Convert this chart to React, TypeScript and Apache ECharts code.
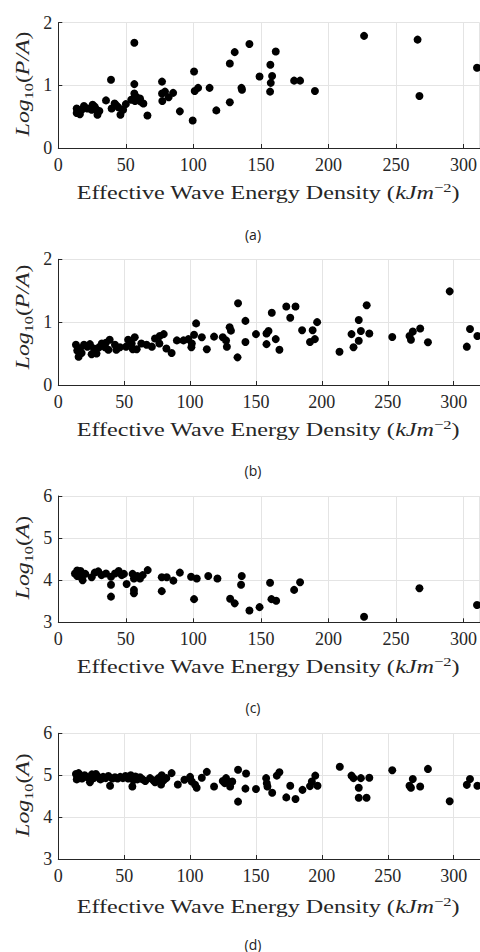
import React, { useEffect, useRef } from "react";
import * as echarts from "echarts";

// ---- data ----
const panelA: [number, number][] = [
  [13.6, 0.63], [13.6, 0.56], [14.5, 0.6], [16, 0.54], [17.3, 0.61], [19, 0.67], [21.5, 0.63], [24.7, 0.61],
  [25.4, 0.69], [27, 0.66], [28.4, 0.61], [29, 0.53], [30.4, 0.59], [35.3, 0.76], [39, 1.09], [39.5, 0.63],
  [41.7, 0.71], [43, 0.68], [44.4, 0.65], [46, 0.53], [48, 0.61], [50, 0.7], [54, 0.77], [56.3, 1.68],
  [56.3, 1.02], [56.3, 0.87], [56.8, 0.75], [58, 0.81], [60.5, 0.79], [61, 0.74], [63, 0.71], [66, 0.52],
  [76.8, 1.06], [76.8, 0.87], [77, 0.75], [79, 0.9], [81.7, 0.81], [85, 0.88], [90, 0.585], [99.5, 0.44],
  [100.5, 1.22], [101, 0.91], [103.5, 0.96], [112, 0.96], [117, 0.6], [127, 0.73], [127, 1.35], [130.6, 1.53],
  [135.6, 0.96], [136, 0.93], [141.5, 1.66], [149, 1.14], [156.8, 0.9], [157, 1.33], [157.3, 1.04], [158.3, 1.15],
  [161, 1.54], [174.6, 1.075], [179, 1.075], [190, 0.91], [226.4, 1.79], [266, 1.73], [267.4, 0.83], [310, 1.28],
];

const panelB: [number, number][] = [
  [13.4, 0.64], [14.4, 0.55], [15.4, 0.45], [16.5, 0.58], [17.7, 0.51], [19.5, 0.64], [22, 0.61], [24, 0.65],
  [25.3, 0.49], [27, 0.58], [29, 0.5], [31, 0.6], [33, 0.66], [35.4, 0.6], [36, 0.67], [38, 0.56], [39, 0.72],
  [43, 0.64], [44, 0.56], [46.8, 0.6], [51.4, 0.61], [53, 0.72], [55.7, 0.66], [56.5, 0.57], [58, 0.76],
  [59.5, 0.57], [63, 0.66], [67, 0.64], [71, 0.61], [73.4, 0.74], [76.7, 0.66], [77, 0.78], [80, 0.81],
  [82, 0.58], [86, 0.51], [90, 0.71], [95, 0.71], [98.7, 0.73], [101, 0.6], [101.3, 0.66], [103, 0.8],
  [104.6, 0.98], [108.9, 0.76], [112.7, 0.57], [118.2, 0.77], [124.8, 0.76], [127.3, 0.71], [127.9, 0.61],
  [130, 0.92], [131, 0.865], [136.4, 1.3], [136, 0.44], [142, 1.02], [142, 0.685], [150, 0.81], [158, 0.82],
  [159.5, 0.86], [158, 0.65], [162, 1.15], [165, 0.73], [167.8, 0.56], [173, 1.25], [180, 1.25], [176, 1.07],
  [185, 0.87], [193, 0.87], [196.4, 1.0], [191, 0.685], [194.7, 0.73], [213.4, 0.53], [222.5, 0.81], [224, 0.6],
  [228, 1.035], [229.6, 0.86], [228, 0.705], [234, 1.27], [236, 0.82], [253.4, 0.765], [266.5, 0.78], [269, 0.85],
  [267.6, 0.72], [274.6, 0.9], [280.5, 0.68], [297, 1.49], [310, 0.61], [312.4, 0.89], [318, 0.78],
];

const panelC: [number, number][] = [
  [12.3, 4.16], [14, 4.1], [14, 4.23], [15, 4.2], [16, 4.1], [16.5, 4.22], [18, 4.0], [20, 4.15], [24.7, 4.07],
  [27, 4.18], [29.6, 4.21], [32, 4.12], [35.3, 4.16], [39, 4.08], [39, 3.89], [39, 3.61], [42, 4.16], [44.7, 4.22],
  [47, 4.12], [48.6, 4.15], [50.6, 3.91], [55, 4.15], [56, 4.04], [56, 3.77], [56, 3.69], [58.5, 4.1], [60.5, 4.04],
  [62.5, 4.12], [66.2, 4.24], [76.6, 4.07], [76.6, 3.74], [80.3, 4.07], [85.2, 3.99], [90, 4.18], [98.3, 4.08],
  [100.5, 3.55], [102.5, 4.04], [111, 4.1], [117.8, 4.04], [127.2, 3.56], [130.6, 3.45], [135.3, 3.89],
  [135.8, 4.1], [141.5, 3.28], [149, 3.36], [156.8, 3.94], [157.8, 3.55], [161.3, 3.51], [174.6, 3.77],
  [179, 3.95], [226.4, 3.13], [267.4, 3.81], [310, 3.41],
];

const panelD: [number, number][] = [
  [13.4, 5.03], [14, 4.9], [14.4, 4.96], [15.4, 5.05], [16.5, 4.98], [18, 4.92], [20, 5.0], [22, 4.95], [24, 4.83],
  [25.5, 5.02], [27, 4.93], [28.5, 5.03], [30, 4.97], [32, 4.9], [34, 4.96], [36, 4.93], [38, 4.98], [39.3, 4.75],
  [41, 4.92], [43, 4.95], [45, 4.92], [47, 4.96], [49, 4.93], [51, 4.98], [53, 4.92], [55, 5.0], [56.2, 4.73],
  [57, 4.88], [58.5, 4.97], [60, 4.9], [62, 4.95], [64, 4.9], [66, 4.86], [69.6, 4.93], [72, 4.88], [73.4, 4.83],
  [76, 4.93], [78, 4.78], [78.5, 5.0], [80, 4.88], [82, 4.93], [86, 5.05], [90.7, 4.78], [95.7, 4.89], [100, 4.96],
  [101.3, 4.85], [103.8, 4.77], [105, 4.7], [108.9, 4.94], [112.7, 5.08], [118.2, 4.73], [124.8, 4.86],
  [126.3, 4.81], [127.3, 4.93], [129, 4.83], [130.4, 4.73], [132, 4.85], [136.4, 5.13], [136.4, 4.37],
  [142.5, 5.04], [142, 4.68], [150, 4.67], [157.7, 4.93], [158.2, 4.81], [158.7, 4.73], [162.3, 4.58],
  [165.8, 4.99], [167.8, 5.07], [173, 4.47], [176, 4.75], [180, 4.43], [185.3, 4.65], [191, 4.74], [192.4, 4.85],
  [195, 4.99], [196.7, 4.75], [213.6, 5.2], [222.5, 4.99], [224, 4.93], [228, 4.7], [229.6, 4.93], [228, 4.46],
  [233.9, 4.46], [236, 4.94], [253.4, 5.12], [266.5, 4.75], [269, 4.91], [267.6, 4.7], [274.6, 4.73],
  [280.5, 5.15], [297, 4.38], [310, 4.77], [312.4, 4.91], [318, 4.75],
];

const xMaxes = [312, 320, 312, 320];
const yRanges: [number, number][] = [[0, 2], [0, 2], [3, 6], [3, 6]];
const yQuantities = ["P/A", "P/A", "A", "A"];
const captions = ["(a)", "(b)", "(c)", "(d)"];
const xTitle = "Effective Wave Energy Density";

// ---- layout ----
const gridTops = [22.7, 259.3, 496, 733.3];
const gridHeights = [125.3, 125.7, 126.3, 125.7];
const titleYs = [193, 430, 667.3, 906.7];
const yNameYs = [84, 317, 557.5, 795];
const captionYs = [234, 470.6, 707.3, 944];
const GRID_LEFT = 58.3;

const SERIF = "Liberation Serif";
const INK = "#262626";

export default function App() {
  const ref = useRef<HTMLDivElement>(null);
  useEffect(() => {
    const chart = echarts.init(ref.current!, null, { renderer: "svg" });
    const datasets = [panelA, panelB, panelC, panelD];

    const grid = datasets.map((_, i) => ({
      left: GRID_LEFT,
      right: 0,
      top: gridTops[i],
      height: gridHeights[i],
    }));

    const xAxis = datasets.map((_, i) => ({
      type: "value",
      gridIndex: i,
      min: 0,
      max: xMaxes[i],
      interval: 50,
      axisLine: { show: true, onZero: false, lineStyle: { color: INK, width: 1 } },
      axisTick: { show: true, inside: true, length: 4, lineStyle: { color: INK } },
      axisLabel: {
        fontFamily: SERIF,
        fontSize: 18,
        color: INK,
        margin: 8,
        showMaxLabel: false,
      },
      splitLine: { show: true, lineStyle: { color: "#e4e4e4", width: 1 } },
    }));

    const yAxis = datasets.map((_, i) => ({
      type: "value",
      gridIndex: i,
      min: yRanges[i][0],
      max: yRanges[i][1],
      interval: 1,
      axisLine: { show: true, onZero: false, lineStyle: { color: INK, width: 1 } },
      axisTick: { show: true, inside: true, length: 4, lineStyle: { color: INK } },
      axisLabel: { fontFamily: SERIF, fontSize: 18, color: INK, margin: 6 },
      splitLine: { show: true, lineStyle: { color: "#e4e4e4", width: 1 } },
    }));

    const series = datasets.map((d, i) => ({
      type: "scatter",
      xAxisIndex: i,
      yAxisIndex: i,
      data: d,
      symbol: "circle",
      symbolSize: 8,
      itemStyle: { color: "#000000", opacity: 1 },
    }));

    const graphic: any[] = [];
    datasets.forEach((_, i) => {
      graphic.push({
        type: "text",
        x: 268,
        y: titleYs[i],
        scaleX: 1.27,
        style: {
          text: `{r|${xTitle} (}{i|kJm}{p|−2}{r|)}`,
          align: "center",
          verticalAlign: "middle",
          rich: {
            r: { fontFamily: SERIF, fontSize: 19, fill: INK, lineHeight: 24 },
            i: { fontFamily: SERIF, fontStyle: "italic", fontSize: 19, fill: INK, lineHeight: 24 },
            p: { fontFamily: SERIF, fontSize: 13, fill: INK, lineHeight: 13, verticalAlign: "top" },
          },
        },
      });
      graphic.push({
        type: "text",
        x: 23.3,
        y: yNameYs[i],
        rotation: Math.PI / 2,
        scaleX: 1.25,
        style: {
          text: `{i|Log}{s|10}{n|(}{i|${yQuantities[i]}}{n|)}`,
          align: "center",
          verticalAlign: "middle",
          rich: {
            i: { fontFamily: SERIF, fontStyle: "italic", fontSize: 19, fill: INK, lineHeight: 24 },
            n: { fontFamily: SERIF, fontSize: 19, fill: INK, lineHeight: 24 },
            s: { fontFamily: SERIF, fontSize: 13, fill: INK, lineHeight: 13, verticalAlign: "bottom" },
          },
        },
      });
      graphic.push({
        type: "text",
        x: 253,
        y: captionYs[i],
        style: {
          text: captions[i],
          align: "center",
          verticalAlign: "middle",
          fontFamily: "Open Sans",
          fontSize: 14,
          fill: "#222222",
        },
      });
    });

    chart.setOption({
      animation: false,
      backgroundColor: "#ffffff",
      grid,
      xAxis,
      yAxis,
      series,
      graphic,
    });
    return () => chart.dispose();
  }, []);
  return (
    <div
      ref={ref}
      style={{ position: "absolute", left: 0, top: 0, width: 480, height: 952 }}
    />
  );
}
